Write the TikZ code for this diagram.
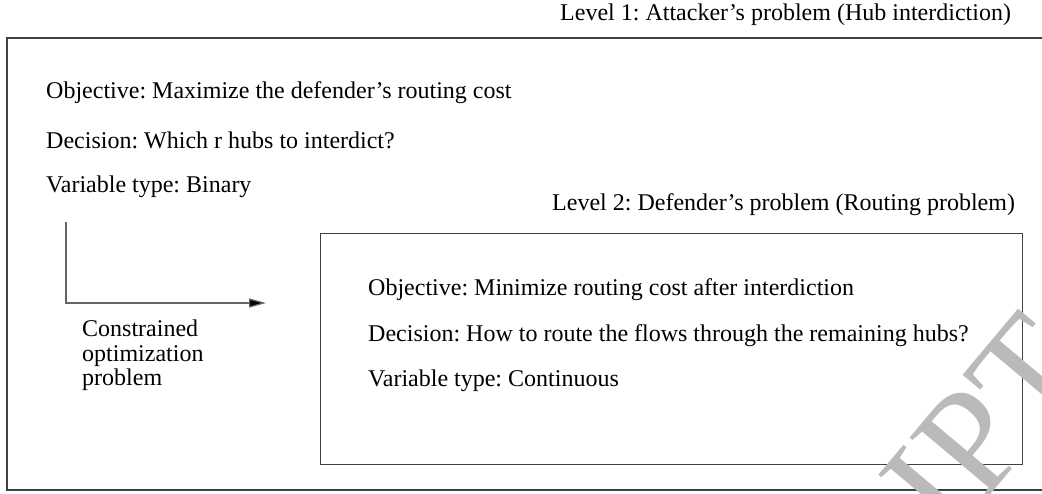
\documentclass[tikz,border=0pt]{standalone}
\usepackage{fontspec}
\setmainfont{Liberation Serif}
\frenchspacing
\usetikzlibrary{positioning,arrows.meta}

\tikzset{
    txt/.style={anchor=west, inner sep=0pt, font=\fontsize{24}{24.5}\selectfont},
    framebox/.style={draw=black!75, line width=1.3pt},
}

\begin{document}
\begin{tikzpicture}[x=1pt,y=-1pt]
\useasboundingbox (0,0) rectangle (1042,493);

% Level 1 (outer box, right edge runs off the page)
\draw[framebox] (1060,38) -- (7,38) -- (7,490) -- (1060,490);
\node[txt] (lvlone) at (560,15) {Level 1: Attacker's problem (Hub interdiction)};

\node[txt] (objone) at (46,93) {Objective: Maximize the defender's routing cost};
\node[txt] (decone) at (46,140) {Decision: Which r hubs to interdict?};
\node[txt] (varone) at (46,187) {Variable type: Binary};

% Level 2 (inner box)
\node[txt] (lvltwo) at (552,205) {Level 2: Defender's problem (Routing problem)};
\draw[framebox, line width=1pt] (320,233) rectangle (1022,464);

\node[txt] (objtwo) at (368,290) {Objective: Minimize routing cost after interdiction};
\node[txt] (dectwo) at (368,336) {Decision: How to route the flows through the remaining hubs?};
\node[txt] (vartwo) at (368,381) {Variable type: Continuous};

% bent arrow from level 1 into level 2
\coordinate (arrtop) at (66,222);
\coordinate (arrend) at (266,303);
\draw[black!60, line width=1.2pt, -{Triangle[length=17pt,width=9pt,fill=black]}] (arrtop) |- (arrend);
\node[txt, align=left, anchor=north west] (constr) at (82,320)
    {Constrained\\optimization\\problem};

% watermark tail
\node[font=\fontsize{150}{150}\selectfont, text=black!27, rotate=50] (wmark) at (985,425) {IPT};
\end{tikzpicture}
\end{document}
